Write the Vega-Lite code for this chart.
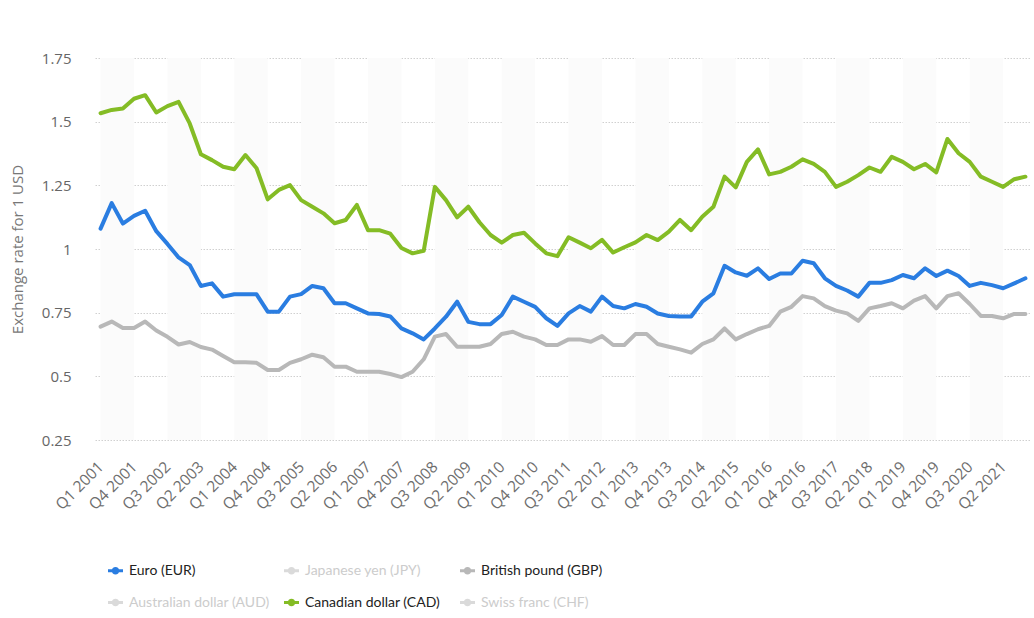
{
  "$schema": "https://vega.github.io/schema/vega-lite/v6.json",
  "autosize": "none",
  "width": 936,
  "height": 382,
  "padding": {"left": 95, "top": 58, "right": 3, "bottom": 178},
  "background": "white",
  "config": {
    "view": {"stroke": null},
    "font": "Open Sans"
  },
  "datasets": {
    "rates": [
      {"q":"Q1 2001","Euro (EUR)":1.08,"British pound (GBP)":0.695,"Canadian dollar (CAD)":1.533},
      {"q":"Q2 2001","Euro (EUR)":1.18,"British pound (GBP)":0.715,"Canadian dollar (CAD)":1.546},
      {"q":"Q3 2001","Euro (EUR)":1.10,"British pound (GBP)":0.69,"Canadian dollar (CAD)":1.552},
      {"q":"Q4 2001","Euro (EUR)":1.13,"British pound (GBP)":0.69,"Canadian dollar (CAD)":1.59},
      {"q":"Q1 2002","Euro (EUR)":1.15,"British pound (GBP)":0.715,"Canadian dollar (CAD)":1.604},
      {"q":"Q2 2002","Euro (EUR)":1.07,"British pound (GBP)":0.68,"Canadian dollar (CAD)":1.536},
      {"q":"Q3 2002","Euro (EUR)":1.02,"British pound (GBP)":0.655,"Canadian dollar (CAD)":1.561},
      {"q":"Q4 2002","Euro (EUR)":0.967,"British pound (GBP)":0.625,"Canadian dollar (CAD)":1.578},
      {"q":"Q1 2003","Euro (EUR)":0.937,"British pound (GBP)":0.635,"Canadian dollar (CAD)":1.493},
      {"q":"Q2 2003","Euro (EUR)":0.855,"British pound (GBP)":0.615,"Canadian dollar (CAD)":1.372},
      {"q":"Q3 2003","Euro (EUR)":0.865,"British pound (GBP)":0.605,"Canadian dollar (CAD)":1.349},
      {"q":"Q4 2003","Euro (EUR)":0.813,"British pound (GBP)":0.58,"Canadian dollar (CAD)":1.323},
      {"q":"Q1 2004","Euro (EUR)":0.822,"British pound (GBP)":0.555,"Canadian dollar (CAD)":1.313},
      {"q":"Q2 2004","Euro (EUR)":0.822,"British pound (GBP)":0.555,"Canadian dollar (CAD)":1.369},
      {"q":"Q3 2004","Euro (EUR)":0.822,"British pound (GBP)":0.553,"Canadian dollar (CAD)":1.317},
      {"q":"Q4 2004","Euro (EUR)":0.754,"British pound (GBP)":0.525,"Canadian dollar (CAD)":1.195},
      {"q":"Q1 2005","Euro (EUR)":0.754,"British pound (GBP)":0.525,"Canadian dollar (CAD)":1.232},
      {"q":"Q2 2005","Euro (EUR)":0.813,"British pound (GBP)":0.553,"Canadian dollar (CAD)":1.251},
      {"q":"Q3 2005","Euro (EUR)":0.823,"British pound (GBP)":0.567,"Canadian dollar (CAD)":1.192},
      {"q":"Q4 2005","Euro (EUR)":0.855,"British pound (GBP)":0.585,"Canadian dollar (CAD)":1.166},
      {"q":"Q1 2006","Euro (EUR)":0.846,"British pound (GBP)":0.575,"Canadian dollar (CAD)":1.14},
      {"q":"Q2 2006","Euro (EUR)":0.787,"British pound (GBP)":0.538,"Canadian dollar (CAD)":1.101},
      {"q":"Q3 2006","Euro (EUR)":0.787,"British pound (GBP)":0.538,"Canadian dollar (CAD)":1.114},
      {"q":"Q4 2006","Euro (EUR)":0.767,"British pound (GBP)":0.518,"Canadian dollar (CAD)":1.173},
      {"q":"Q1 2007","Euro (EUR)":0.747,"British pound (GBP)":0.518,"Canadian dollar (CAD)":1.074},
      {"q":"Q2 2007","Euro (EUR)":0.745,"British pound (GBP)":0.518,"Canadian dollar (CAD)":1.074},
      {"q":"Q3 2007","Euro (EUR)":0.735,"British pound (GBP)":0.509,"Canadian dollar (CAD)":1.06},
      {"q":"Q4 2007","Euro (EUR)":0.688,"British pound (GBP)":0.497,"Canadian dollar (CAD)":1.004},
      {"q":"Q1 2008","Euro (EUR)":0.669,"British pound (GBP)":0.518,"Canadian dollar (CAD)":0.983},
      {"q":"Q2 2008","Euro (EUR)":0.645,"British pound (GBP)":0.567,"Canadian dollar (CAD)":0.993},
      {"q":"Q3 2008","Euro (EUR)":0.688,"British pound (GBP)":0.656,"Canadian dollar (CAD)":1.244},
      {"q":"Q4 2008","Euro (EUR)":0.734,"British pound (GBP)":0.666,"Canadian dollar (CAD)":1.192},
      {"q":"Q1 2009","Euro (EUR)":0.793,"British pound (GBP)":0.616,"Canadian dollar (CAD)":1.124},
      {"q":"Q2 2009","Euro (EUR)":0.714,"British pound (GBP)":0.616,"Canadian dollar (CAD)":1.166},
      {"q":"Q3 2009","Euro (EUR)":0.705,"British pound (GBP)":0.616,"Canadian dollar (CAD)":1.105},
      {"q":"Q4 2009","Euro (EUR)":0.705,"British pound (GBP)":0.627,"Canadian dollar (CAD)":1.055},
      {"q":"Q1 2010","Euro (EUR)":0.741,"British pound (GBP)":0.666,"Canadian dollar (CAD)":1.025},
      {"q":"Q2 2010","Euro (EUR)":0.813,"British pound (GBP)":0.675,"Canadian dollar (CAD)":1.055},
      {"q":"Q3 2010","Euro (EUR)":0.793,"British pound (GBP)":0.656,"Canadian dollar (CAD)":1.064},
      {"q":"Q4 2010","Euro (EUR)":0.773,"British pound (GBP)":0.645,"Canadian dollar (CAD)":1.022},
      {"q":"Q1 2011","Euro (EUR)":0.728,"British pound (GBP)":0.623,"Canadian dollar (CAD)":0.983},
      {"q":"Q2 2011","Euro (EUR)":0.698,"British pound (GBP)":0.623,"Canadian dollar (CAD)":0.972},
      {"q":"Q3 2011","Euro (EUR)":0.747,"British pound (GBP)":0.645,"Canadian dollar (CAD)":1.046},
      {"q":"Q4 2011","Euro (EUR)":0.776,"British pound (GBP)":0.645,"Canadian dollar (CAD)":1.025},
      {"q":"Q1 2012","Euro (EUR)":0.754,"British pound (GBP)":0.636,"Canadian dollar (CAD)":1.003},
      {"q":"Q2 2012","Euro (EUR)":0.813,"British pound (GBP)":0.658,"Canadian dollar (CAD)":1.036},
      {"q":"Q3 2012","Euro (EUR)":0.776,"British pound (GBP)":0.623,"Canadian dollar (CAD)":0.986},
      {"q":"Q4 2012","Euro (EUR)":0.767,"British pound (GBP)":0.623,"Canadian dollar (CAD)":1.007},
      {"q":"Q1 2013","Euro (EUR)":0.784,"British pound (GBP)":0.666,"Canadian dollar (CAD)":1.026},
      {"q":"Q2 2013","Euro (EUR)":0.773,"British pound (GBP)":0.666,"Canadian dollar (CAD)":1.055},
      {"q":"Q3 2013","Euro (EUR)":0.747,"British pound (GBP)":0.627,"Canadian dollar (CAD)":1.035},
      {"q":"Q4 2013","Euro (EUR)":0.737,"British pound (GBP)":0.616,"Canadian dollar (CAD)":1.068},
      {"q":"Q1 2014","Euro (EUR)":0.735,"British pound (GBP)":0.606,"Canadian dollar (CAD)":1.114},
      {"q":"Q2 2014","Euro (EUR)":0.735,"British pound (GBP)":0.593,"Canadian dollar (CAD)":1.074},
      {"q":"Q3 2014","Euro (EUR)":0.793,"British pound (GBP)":0.627,"Canadian dollar (CAD)":1.127},
      {"q":"Q4 2014","Euro (EUR)":0.826,"British pound (GBP)":0.645,"Canadian dollar (CAD)":1.166},
      {"q":"Q1 2015","Euro (EUR)":0.934,"British pound (GBP)":0.688,"Canadian dollar (CAD)":1.284},
      {"q":"Q2 2015","Euro (EUR)":0.908,"British pound (GBP)":0.645,"Canadian dollar (CAD)":1.242},
      {"q":"Q3 2015","Euro (EUR)":0.895,"British pound (GBP)":0.666,"Canadian dollar (CAD)":1.342},
      {"q":"Q4 2015","Euro (EUR)":0.924,"British pound (GBP)":0.685,"Canadian dollar (CAD)":1.391},
      {"q":"Q1 2016","Euro (EUR)":0.882,"British pound (GBP)":0.698,"Canadian dollar (CAD)":1.293},
      {"q":"Q2 2016","Euro (EUR)":0.904,"British pound (GBP)":0.754,"Canadian dollar (CAD)":1.303},
      {"q":"Q3 2016","Euro (EUR)":0.904,"British pound (GBP)":0.773,"Canadian dollar (CAD)":1.323},
      {"q":"Q4 2016","Euro (EUR)":0.954,"British pound (GBP)":0.815,"Canadian dollar (CAD)":1.352},
      {"q":"Q1 2017","Euro (EUR)":0.944,"British pound (GBP)":0.806,"Canadian dollar (CAD)":1.334},
      {"q":"Q2 2017","Euro (EUR)":0.885,"British pound (GBP)":0.776,"Canadian dollar (CAD)":1.303},
      {"q":"Q3 2017","Euro (EUR)":0.855,"British pound (GBP)":0.758,"Canadian dollar (CAD)":1.244},
      {"q":"Q4 2017","Euro (EUR)":0.837,"British pound (GBP)":0.747,"Canadian dollar (CAD)":1.264},
      {"q":"Q1 2018","Euro (EUR)":0.813,"British pound (GBP)":0.718,"Canadian dollar (CAD)":1.29},
      {"q":"Q2 2018","Euro (EUR)":0.867,"British pound (GBP)":0.767,"Canadian dollar (CAD)":1.32},
      {"q":"Q3 2018","Euro (EUR)":0.867,"British pound (GBP)":0.776,"Canadian dollar (CAD)":1.303},
      {"q":"Q4 2018","Euro (EUR)":0.878,"British pound (GBP)":0.787,"Canadian dollar (CAD)":1.362},
      {"q":"Q1 2019","Euro (EUR)":0.898,"British pound (GBP)":0.767,"Canadian dollar (CAD)":1.342},
      {"q":"Q2 2019","Euro (EUR)":0.885,"British pound (GBP)":0.797,"Canadian dollar (CAD)":1.313},
      {"q":"Q3 2019","Euro (EUR)":0.924,"British pound (GBP)":0.815,"Canadian dollar (CAD)":1.334},
      {"q":"Q4 2019","Euro (EUR)":0.894,"British pound (GBP)":0.767,"Canadian dollar (CAD)":1.301},
      {"q":"Q1 2020","Euro (EUR)":0.915,"British pound (GBP)":0.815,"Canadian dollar (CAD)":1.432},
      {"q":"Q2 2020","Euro (EUR)":0.894,"British pound (GBP)":0.826,"Canadian dollar (CAD)":1.376},
      {"q":"Q3 2020","Euro (EUR)":0.855,"British pound (GBP)":0.784,"Canadian dollar (CAD)":1.342},
      {"q":"Q4 2020","Euro (EUR)":0.867,"British pound (GBP)":0.737,"Canadian dollar (CAD)":1.284},
      {"q":"Q1 2021","Euro (EUR)":0.858,"British pound (GBP)":0.737,"Canadian dollar (CAD)":1.264},
      {"q":"Q2 2021","Euro (EUR)":0.846,"British pound (GBP)":0.728,"Canadian dollar (CAD)":1.244},
      {"q":"Q3 2021","Euro (EUR)":0.865,"British pound (GBP)":0.745,"Canadian dollar (CAD)":1.274},
      {"q":"Q4 2021","Euro (EUR)":0.885,"British pound (GBP)":0.745,"Canadian dollar (CAD)":1.284}
    ],
    "bands": [
      {"start":"Q1 2001","end":"Q4 2001"},
      {"start":"Q3 2002","end":"Q2 2003"},
      {"start":"Q1 2004","end":"Q4 2004"},
      {"start":"Q3 2005","end":"Q2 2006"},
      {"start":"Q1 2007","end":"Q4 2007"},
      {"start":"Q3 2008","end":"Q2 2009"},
      {"start":"Q1 2010","end":"Q4 2010"},
      {"start":"Q3 2011","end":"Q2 2012"},
      {"start":"Q1 2013","end":"Q4 2013"},
      {"start":"Q3 2014","end":"Q2 2015"},
      {"start":"Q1 2016","end":"Q4 2016"},
      {"start":"Q3 2017","end":"Q2 2018"},
      {"start":"Q1 2019","end":"Q4 2019"},
      {"start":"Q3 2020","end":"Q2 2021"}
    ]
  },
  "layer": [
    {
      "data": {"name": "bands"},
      "mark": {"type": "rect", "color": "#fbfbfb"},
      "encoding": {
        "x": {"field": "start", "type": "ordinal"},
        "x2": {"field": "end"}
      }
    },
    {
      "data": {"name": "rates"},
      "transform": [
        {"fold": ["British pound (GBP)", "Euro (EUR)", "Canadian dollar (CAD)"], "as": ["currency", "rate"]}
      ],
      "mark": {"type": "line", "strokeWidth": 4, "strokeJoin": "round", "strokeCap": "round"},
      "encoding": {
        "x": {
          "field": "q", "type": "ordinal",
          "scale": {
            "type": "point", "paddingOuter": 0.37,
            "domain": ["Q1 2001","Q2 2001","Q3 2001","Q4 2001","Q1 2002","Q2 2002","Q3 2002","Q4 2002","Q1 2003","Q2 2003","Q3 2003","Q4 2003","Q1 2004","Q2 2004","Q3 2004","Q4 2004","Q1 2005","Q2 2005","Q3 2005","Q4 2005","Q1 2006","Q2 2006","Q3 2006","Q4 2006","Q1 2007","Q2 2007","Q3 2007","Q4 2007","Q1 2008","Q2 2008","Q3 2008","Q4 2008","Q1 2009","Q2 2009","Q3 2009","Q4 2009","Q1 2010","Q2 2010","Q3 2010","Q4 2010","Q1 2011","Q2 2011","Q3 2011","Q4 2011","Q1 2012","Q2 2012","Q3 2012","Q4 2012","Q1 2013","Q2 2013","Q3 2013","Q4 2013","Q1 2014","Q2 2014","Q3 2014","Q4 2014","Q1 2015","Q2 2015","Q3 2015","Q4 2015","Q1 2016","Q2 2016","Q3 2016","Q4 2016","Q1 2017","Q2 2017","Q3 2017","Q4 2017","Q1 2018","Q2 2018","Q3 2018","Q4 2018","Q1 2019","Q2 2019","Q3 2019","Q4 2019","Q1 2020","Q2 2020","Q3 2020","Q4 2020","Q1 2021","Q2 2021","Q3 2021","Q4 2021"]
          },
          "axis": {
            "title": null,
            "values": ["Q1 2001","Q4 2001","Q3 2002","Q2 2003","Q1 2004","Q4 2004","Q3 2005","Q2 2006","Q1 2007","Q4 2007","Q3 2008","Q2 2009","Q1 2010","Q4 2010","Q3 2011","Q2 2012","Q1 2013","Q4 2013","Q3 2014","Q2 2015","Q1 2016","Q4 2016","Q3 2017","Q2 2018","Q1 2019","Q4 2019","Q3 2020","Q2 2021"],
            "labelAngle": -45,
            "labelAlign": "right",
            "labelBaseline": "middle",
            "labelFontSize": 15.5,
            "labelColor": "#6e6e6e",
            "labelPadding": 24,
            "labelOverlap": false,
            "domain": false,
            "ticks": false,
            "grid": false
          }
        },
        "y": {
          "field": "rate", "type": "quantitative",
          "scale": {"domain": [0.25, 1.75], "zero": false, "nice": false},
          "axis": {
            "title": "Exchange rate for 1 USD",
            "titleFontSize": 15,
            "titleFontWeight": "normal",
            "titleColor": "#777777",
            "titleAngle": -90,
            "titleX": -78,
            "titleY": 191,
            "titleAlign": "center",
            "titleBaseline": "middle",
            "values": [0.25, 0.5, 0.75, 1, 1.25, 1.5, 1.75],
            "labelExpr": "'' + datum.value",
            "labelFontSize": 15,
            "labelColor": "#666666",
            "labelPadding": 24,
            "domain": false,
            "ticks": false,
            "grid": true,
            "gridColor": "#d0d0d0",
            "gridDash": [1.5, 1.5],
            "gridWidth": 1
          }
        },
        "color": {
          "field": "currency", "type": "nominal",
          "scale": {
            "domain": ["Euro (EUR)", "Japanese yen (JPY)", "British pound (GBP)", "Australian dollar (AUD)", "Canadian dollar (CAD)", "Swiss franc (CHF)"],
            "range": ["#2a7de1", "#dadada", "#b8b8b8", "#dadada", "#84bc25", "#dadada"]
          },
          "legend": {
            "title": null,
            "orient": "none",
            "legendX": 13,
            "legendY": 505,
            "direction": "horizontal",
            "columns": 3,
            "gridAlign": "all",
            "columnPadding": 14,
            "rowPadding": 17,
            "symbolType": "M-1,-0.2 L1,-0.2 L1,0.2 L-1,0.2 Z M-0.5,0 A0.5,0.5 0 1,1 0.5,0 A0.5,0.5 0 1,1 -0.5,0 Z",
            "symbolSize": 225,
            "symbolStrokeWidth": 0,
            "labelFont": "Lato",
            "labelFontSize": 14,
            "labelOffset": 6,
            "labelLimit": 300,
            "encode": {
              "symbols": {"update": {"fill": {"scale": "color", "field": "value"}, "stroke": {"value": "transparent"}}},
              "labels": {"update": {"fill": {"signal": "indexof(['Euro (EUR)','British pound (GBP)','Canadian dollar (CAD)'], datum.value) >= 0 ? '#222222' : '#cccccc'"}}}
            }
          }
        }
      }
    }
  ]
}
